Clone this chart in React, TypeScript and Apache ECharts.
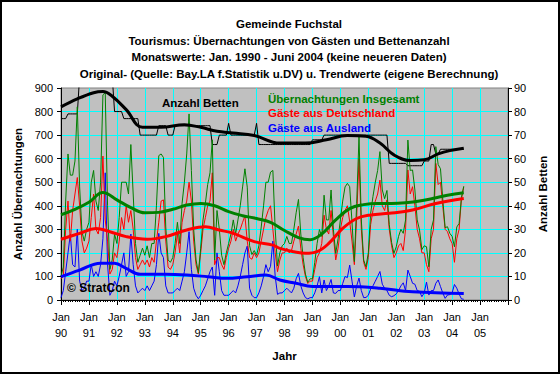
import React, { useEffect, useRef } from 'react';
import * as echarts from 'echarts';

const titleLines = [
  'Gemeinde Fuchstal',
  'Tourismus: Übernachtungen von Gästen und Bettenanzahl',
  'Monatswerte: Jan. 1990 - Juni 2004 (keine neueren Daten)',
  'Original- (Quelle: Bay.LA f.Statistik u.DV) u. Trendwerte (eigene Berechnung)',
];

const yearLabels = ['90', '91', '92', '93', '94', '95', '96', '97', '98', '99', '00', '01', '02', '03', '04', '05'];

// Monthly values, Jan 1990 - Jun 2004
const insgesamt = [
  100, 140, 420, 620, 530, 530, 590, 820, 480, 290, 250, 300,
  330, 500, 550, 420, 380, 500, 871, 880, 400, 130, 170, 280,
  240, 350, 500, 500, 500, 450, 660, 450, 240, 160, 190, 220,
  190, 230, 180, 240, 240, 400, 613, 620, 605, 310, 170, 160,
  180, 240, 330, 240, 410, 500, 620, 790, 550, 300, 170, 115,
  220, 340, 410, 490, 540, 680, 170, 380, 300, 190, 150, 200,
  240, 280, 340, 280, 340, 400, 480, 557, 479, 230, 193, 210,
  190, 230, 310, 400, 500, 500, 543, 550, 300, 144, 200, 230,
  240, 270, 240, 240, 300, 370, 427, 280, 180, 110, 75, 90,
  90, 160, 240, 299, 270, 445, 340, 340, 467, 300, 198, 260,
  340, 420, 480, 495, 481, 330, 163, 410, 693, 340, 170, 141,
  200, 367, 440, 500, 550, 630, 467, 430, 465, 320, 244, 198,
  226, 270, 300, 283, 340, 679, 550, 552, 467, 340, 297, 214,
  230, 226, 141, 300, 340, 651, 575, 557, 425, 307, 311, 283,
  270, 226, 310, 325, 435, 483,
];

const deutschland = [
  90, 100, 300, 420, 250, 380, 450, 520, 400, 250, 200, 220,
  250, 350, 450, 300, 280, 350, 611, 340, 250, 110, 130, 200,
  180, 250, 350, 300, 400, 330, 380, 300, 180, 130, 150, 170,
  150, 170, 140, 180, 160, 250, 330, 420, 425, 250, 140, 130,
  150, 200, 280, 200, 330, 380, 420, 500, 420, 250, 150, 110,
  200, 300, 350, 400, 420, 540, 150, 180, 180, 150, 130, 180,
  220, 250, 300, 250, 280, 300, 330, 357, 250, 180, 173, 200,
  180, 200, 250, 300, 350, 380, 400, 300, 200, 120, 170, 200,
  200, 220, 200, 210, 250, 280, 314, 220, 150, 100, 70, 80,
  80, 130, 180, 200, 240, 360, 300, 280, 380, 270, 170, 220,
  300, 350, 380, 400, 333, 250, 150, 350, 600, 300, 160, 130,
  180, 320, 380, 420, 450, 509, 400, 380, 425, 300, 230, 180,
  200, 230, 240, 210, 300, 552, 450, 481, 400, 300, 260, 200,
  200, 150, 120, 260, 300, 580, 490, 500, 396, 300, 290, 260,
  240, 160, 260, 300, 430, 480,
];

const ausland = [
  10, 40, 120, 200, 280, 150, 140, 300, 80, 40, 50, 80,
  80, 150, 100, 120, 100, 150, 260, 540, 150, 20, 40, 80,
  60, 100, 150, 200, 100, 120, 280, 150, 60, 30, 40, 50,
  40, 60, 40, 60, 80, 150, 283, 200, 180, 60, 30, 30,
  30, 40, 50, 40, 80, 120, 200, 290, 130, 50, 20, 5,
  20, 40, 60, 90, 120, 140, 20, 200, 120, 40, 20, 20,
  20, 30, 40, 30, 60, 100, 150, 200, 229, 50, 20, 10,
  10, 30, 60, 100, 150, 120, 143, 250, 100, 24, 30, 30,
  40, 50, 40, 30, 50, 90, 113, 60, 30, 10, 5, 10,
  10, 30, 60, 99, 30, 85, 40, 60, 87, 30, 28, 40,
  40, 70, 100, 95, 148, 80, 13, 60, 93, 40, 10, 11,
  20, 47, 60, 80, 100, 121, 67, 50, 40, 20, 14, 18,
  26, 40, 60, 73, 40, 127, 100, 71, 67, 40, 37, 14,
  30, 76, 21, 40, 40, 71, 85, 57, 29, 7, 21, 23,
  30, 66, 50, 25, 5, 3,
];

const betten = [
  77, 77, 77, 79, 79, 79, 79, 79, 95, 95, 95, 95,
  95, 95, 95, 95, 95, 95, 95, 95, 95, 95, 95, 80,
  80, 80, 80, 77, 77, 77, 77, 77, 77, 77, 70, 70,
  70, 70, 70, 70, 70, 70, 74, 74, 74, 74, 70, 70,
  70, 74, 74, 74, 74, 74, 74, 74, 74, 74, 74, 74,
  74, 74, 74, 74, 74, 66, 66, 66, 70, 70, 70, 70,
  75, 70, 70, 70, 70, 70, 70, 70, 70, 70, 70, 70,
  75, 66, 66, 66, 66, 66, 66, 66, 66, 66, 66, 66,
  66, 66, 66, 66, 66, 66, 66, 66, 66, 66, 66, 66,
  68, 68, 68, 68, 68, 70, 70, 70, 70, 70, 70, 70,
  70, 70, 70, 70, 70, 70, 70, 70, 70, 70, 70, 70,
  70, 70, 70, 70, 70, 70, 70, 70, 70, 58, 58, 58,
  58, 58, 58, 58, 58, 57, 57, 57, 57, 57, 57, 57,
  59, 59, 59, 66, 66, 62, 62, 64, 64, 64, 64, 64,
  64, 64, 64, 64, 64, 64,
];

// Trend values: [month index since Jan 1990, value]
const trendInsgesamt = [
  [0, 362], [6, 385], [12, 415], [18, 456], [24, 425], [30, 392], [36, 370], [42, 372],
  [48, 385], [54, 403], [60, 410], [66, 400], [72, 375], [78, 358], [84, 346], [90, 330],
  [96, 295], [102, 265], [107, 256], [112, 280], [118, 340], [124, 388], [130, 405],
  [136, 410], [142, 410], [148, 413], [154, 420], [160, 432], [166, 445], [173, 455],
];
const trendDeutschland = [
  [0, 258], [8, 283], [15, 304], [21, 290], [28, 269], [37, 258], [45, 269], [54, 297],
  [62, 311], [68, 297], [74, 283], [83, 248], [91, 233], [94, 219], [100, 205], [105, 198],
  [110, 205], [115, 240], [121, 304], [127, 346], [133, 361], [141, 368], [151, 382],
  [161, 410], [173, 431],
];
const trendAusland = [
  [0, 99], [8, 127], [17, 156], [23, 156], [28, 134], [34, 109], [45, 109], [54, 106],
  [63, 99], [71, 92], [80, 99], [88, 106], [94, 85], [101, 71], [108, 57], [123, 57],
  [137, 50], [151, 35], [173, 28],
];
const trendBetten = [
  [0, 82], [7, 85.4], [14, 88], [18, 88.5], [22, 86.5], [28, 80.8], [35, 73.3], [43, 73.3],
  [53, 74.4], [60, 73.3], [67, 71.6], [74, 70.9], [83, 69.8], [94, 66.6], [105, 66.6],
  [114, 68], [123, 69.8], [131, 69.5], [137, 66.6], [143, 61.6], [150, 59.2], [156, 59.5],
  [162, 62], [167, 63.4], [173, 64.4],
];

const FONT = "'Liberation Sans', Arial, sans-serif";

export default function App() {
  const ref = useRef<HTMLDivElement>(null);
  useEffect(() => {
    document.body.style.margin = '0';
    const chart = echarts.init(ref.current!, null, { renderer: 'svg' });
    const toPairs = (arr: number[]) => arr.map((v, i) => [i, v]);
    const raw = (name: string, data: number[], color: string, yAxisIndex = 0) => ({
      name, type: 'line', data: toPairs(data), yAxisIndex, symbol: 'none', showSymbol: false,
      lineStyle: { color, width: 1 }, itemStyle: { color }, z: 2,
    });
    const trend = (name: string, data: number[][], color: string, yAxisIndex = 0) => ({
      name, type: 'line', data, yAxisIndex, symbol: 'none', showSymbol: false, smooth: 0.4,
      lineStyle: { color, width: 3 }, itemStyle: { color }, z: 3,
    });
    const boldText = (text: string, x: number, y: number, color: string, align = 'left', size = 11.5) => ({
      type: 'text', x, y, z: 10,
      style: { text, fill: color, font: `bold ${size}px ${FONT}`, textAlign: align, textVerticalAlign: 'middle' },
    });
    chart.setOption({
      animation: false,
      backgroundColor: '#ffffff',
      textStyle: { fontFamily: FONT },
      grid: {
        left: 61, right: 52, top: 88, bottom: 74, show: true,
        backgroundColor: '#c0c0c0', borderColor: '#808080', borderWidth: 1,
      },
      xAxis: {
        type: 'value', min: 0, max: 192, interval: 12,
        axisLine: { show: true, onZero: false, lineStyle: { color: '#000', width: 1 } },
        axisTick: { show: true, length: 5, lineStyle: { color: '#000' } },
        minorTick: { show: true, splitNumber: 12, length: 2, lineStyle: { color: '#000' } },
        splitLine: { show: true, showMinLine: false, showMaxLine: false, lineStyle: { color: '#00ffff', width: 1 } },
        axisLabel: {
          formatter: (v: number) => {
            const i = Math.round(v / 12);
            return i < yearLabels.length ? 'Jan\n' + yearLabels[i] : '';
          },
          fontSize: 11, lineHeight: 16, color: '#000', margin: 9, fontFamily: FONT,
        },
        name: 'Jahr', nameLocation: 'middle', nameGap: 50,
        nameTextStyle: { fontWeight: 'bold', fontSize: 11.5, color: '#000', fontFamily: FONT },
      },
      yAxis: [
        {
          type: 'value', min: 0, max: 900, interval: 100, position: 'left',
          axisLine: { show: true, lineStyle: { color: '#000' } },
          axisTick: { show: true, length: 4, lineStyle: { color: '#000' } },
          splitLine: { show: true, showMinLine: false, showMaxLine: false, lineStyle: { color: '#00ffff', width: 1 } },
          axisLabel: { fontSize: 11, color: '#000', margin: 8, fontFamily: FONT },
          name: 'Anzahl Übernachtungen', nameLocation: 'middle', nameGap: 29, nameRotate: 90,
          nameTextStyle: { fontWeight: 'bold', fontSize: 11.5, color: '#000', fontFamily: FONT },
        },
        {
          type: 'value', min: 0, max: 90, interval: 10, position: 'right',
          axisLine: { show: true, lineStyle: { color: '#000' } },
          axisTick: { show: true, length: 4, lineStyle: { color: '#000' } },
          splitLine: { show: false },
          axisLabel: { fontSize: 11, color: '#000', margin: 6, fontFamily: FONT },
          name: 'Anzahl Betten', nameLocation: 'middle', nameGap: 23, nameRotate: 90,
          nameTextStyle: { fontWeight: 'bold', fontSize: 11.5, color: '#000', fontFamily: FONT },
        },
      ],
      graphic: [
        {
          type: 'rect', z: 20, silent: true,
          shape: { x: 1, y: 1, width: 558, height: 372 },
          style: { fill: 'none', stroke: '#000', lineWidth: 2 },
        },
        ...titleLines.map((t, i) => boldText(t, 289, 24 + i * 16.5, '#000', 'center')),
        boldText('Anzahl Betten', 162, 103, '#000'),
        boldText('Übernachtungen Insgesamt', 268, 99, '#008000'),
        boldText('Gäste aus Deutschland', 268, 113, '#ff0000'),
        boldText('Gäste aus Ausland', 268, 128, '#0000ff'),
        boldText('© StratCon', 67, 288, '#000', 'left', 12),
      ],
      series: [
        raw('Betten', betten, '#000000', 1),
        raw('Gäste aus Ausland', ausland, '#0000ff'),
        raw('Gäste aus Deutschland', deutschland, '#ff0000'),
        raw('Übernachtungen Insgesamt', insgesamt, '#008000'),
        trend('Trend Insgesamt', trendInsgesamt, '#008000'),
        trend('Trend Deutschland', trendDeutschland, '#ff0000'),
        trend('Trend Ausland', trendAusland, '#0000ff'),
        trend('Trend Betten', trendBetten, '#000000', 1),
      ],
    });
    return () => chart.dispose();
  }, []);
  return <div ref={ref} style={{ width: 560, height: 374 }} />;
}
